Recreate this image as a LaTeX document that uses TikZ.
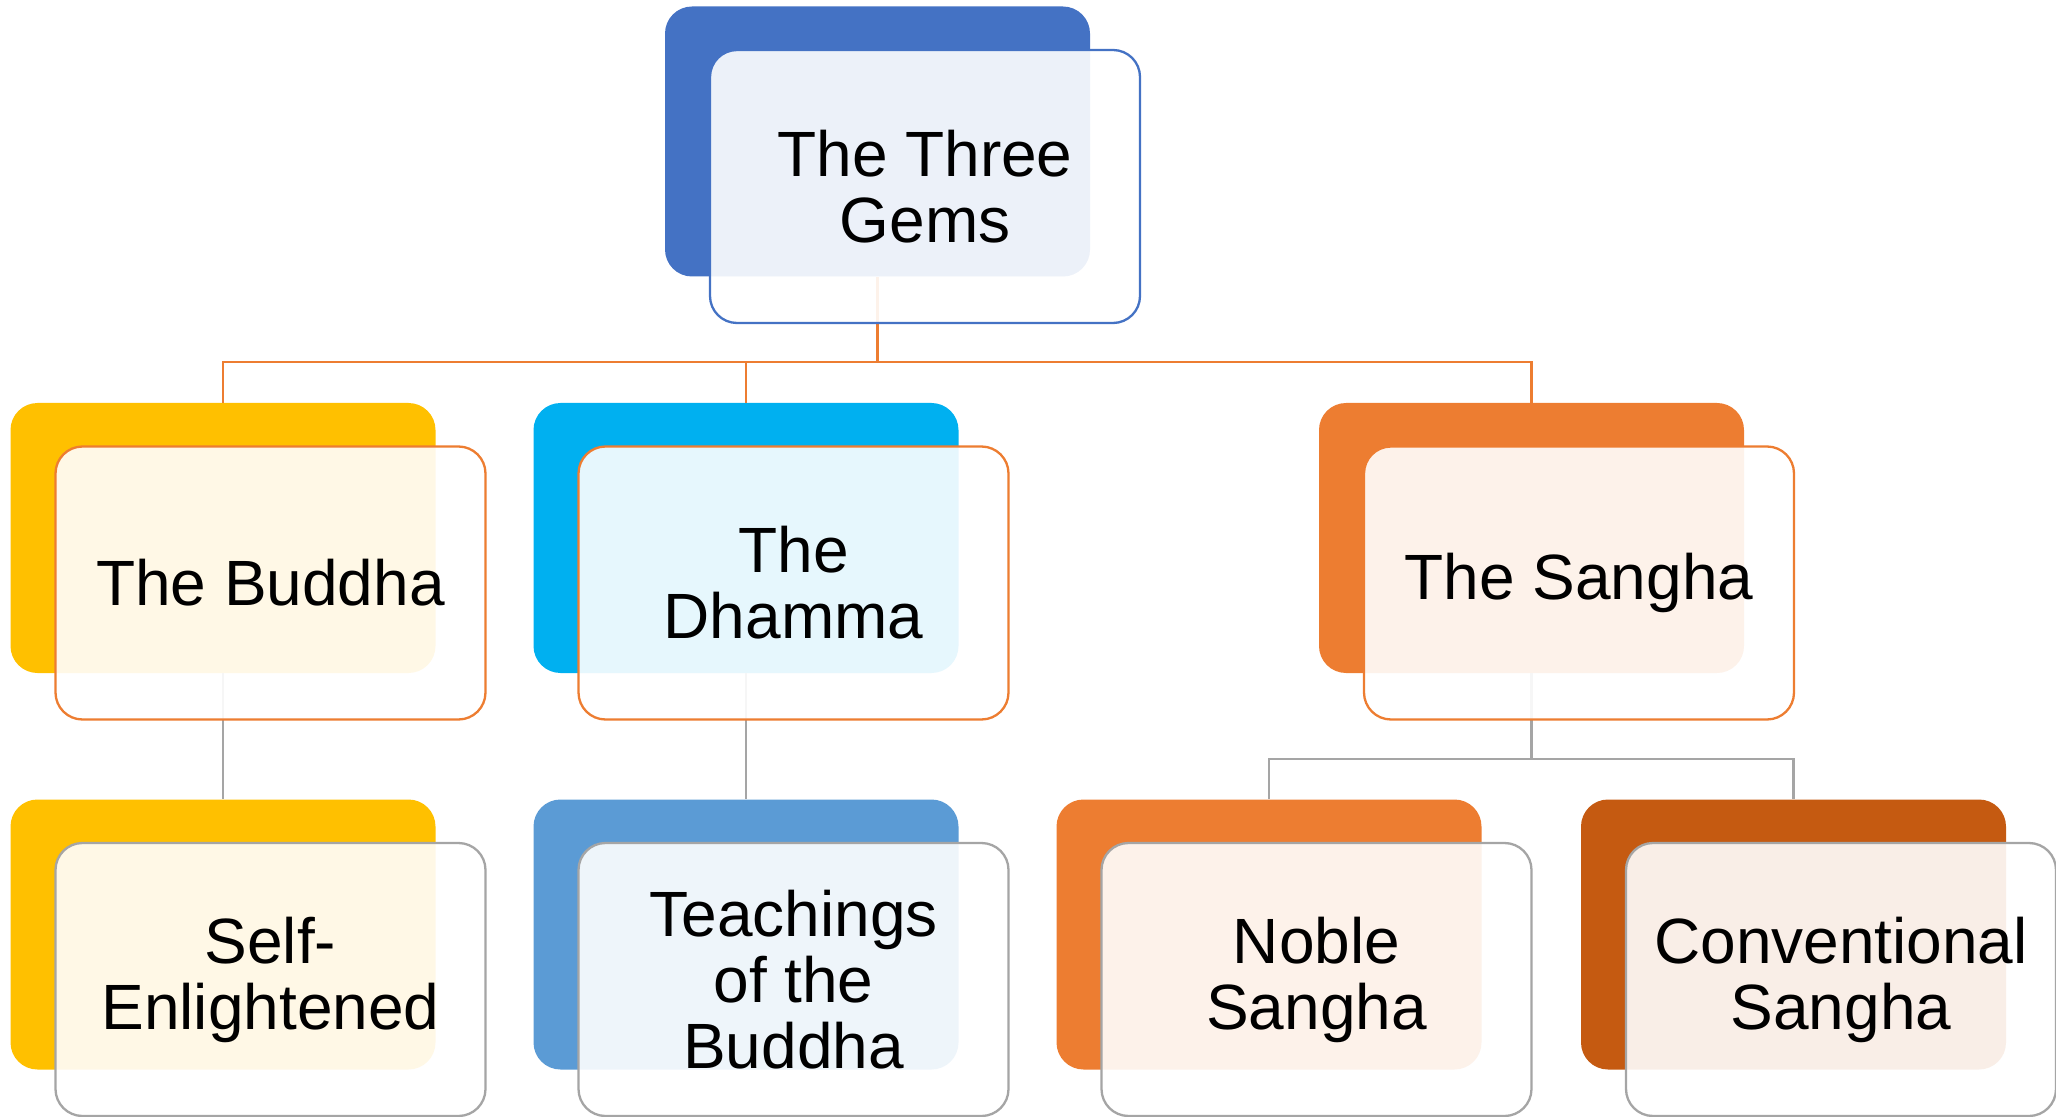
\documentclass[tikz,border=0pt]{standalone}
\usepackage{fontspec}
\setmainfont{Liberation Sans}
\usetikzlibrary{positioning}
\definecolor{gemblue}{HTML}{4472C4}
\definecolor{gemgold}{HTML}{FFC000}
\definecolor{gemcyan}{HTML}{00B0F0}
\definecolor{gemorange}{HTML}{ED7D31}
\definecolor{gemsky}{HTML}{5B9BD5}
\definecolor{gemrust}{HTML}{C55A11}
\definecolor{gemgrey}{HTML}{A5A5A5}
\tikzset{
	gemnode/.style = {rectangle, rounded corners=13.5pt, inner sep=0pt},
	backbox/.style = {gemnode, minimum width=212.5pt, minimum height=135pt},
	frontbox/.style = {gemnode, minimum width=215pt, minimum height=136.5pt, fill=white, fill opacity=0.9, text opacity=1, line width=1.15pt, align=center, font=\fontsize{32}{33}\selectfont},
	topline/.style = {draw=gemorange, line width=1.15pt},
	subline/.style = {draw=gemgrey, line width=1.15pt}
}

\begin{document}
\begin{tikzpicture}[node distance=198.25pt]
		\useasboundingbox (0,0) rectangle (1028pt,-558.5pt);
		%hintere Kästen
		\node (gemsback) [backbox, fill=gemblue] at (438.75pt,-70.75pt) {};
		\node (buddhaback) [backbox, fill=gemgold, below of=gemsback, xshift=-327.25pt] {};
		\node (dhammaback) [backbox, fill=gemcyan, right of=buddhaback, xshift=63.25pt] {};
		\node (sanghaback) [backbox, fill=gemorange, right of=dhammaback, xshift=194.5pt] {};
		\node (selfback) [backbox, fill=gemgold, below of=buddhaback] {};
		\node (teachback) [backbox, fill=gemsky, below of=dhammaback] {};
		\node (nobleback) [backbox, fill=gemorange, below of=sanghaback, xshift=-131.25pt] {};
		\node (convback) [backbox, fill=gemrust, below of=sanghaback, xshift=131pt] {};

		%Verbindungen
		\coordinate (bar1) at (0,-181pt);
		\coordinate (bar2) at (0,-379.5pt);
		\path [topline] (gemsback.south) -- (gemsback.south |- bar1) -| (buddhaback.north);
		\path [topline] (gemsback.south |- bar1) -| (dhammaback.north);
		\path [topline] (gemsback.south |- bar1) -| (sanghaback.north);
		\path [subline] (buddhaback.south) -- (selfback.north);
		\path [subline] (dhammaback.south) -- (teachback.north);
		\path [subline] (sanghaback.south) -- (sanghaback.south |- bar2) -| (nobleback.north);
		\path [subline] (sanghaback.south |- bar2) -| (convback.north);

		%vordere Kästen mit Text
		\node (gems) [frontbox, draw=gemblue, below of=gemsback, node distance=22.5pt, xshift=23.75pt] {The Three\\Gems};
		\node (buddha) [frontbox, draw=gemorange, below of=buddhaback, node distance=22.5pt, xshift=23.75pt] {The Buddha};
		\node (dhamma) [frontbox, draw=gemorange, below of=dhammaback, node distance=22.5pt, xshift=23.75pt] {The\\Dhamma};
		\node (sangha) [frontbox, draw=gemorange, below of=sanghaback, node distance=22.5pt, xshift=23.75pt] {The Sangha};
		\node (self) [frontbox, draw=gemgrey, below of=selfback, node distance=22.5pt, xshift=23.75pt] {Self-\\Enlightened};
		\node (teach) [frontbox, draw=gemgrey, below of=teachback, node distance=22.5pt, xshift=23.75pt] {Teachings\\of the\\Buddha};
		\node (noble) [frontbox, draw=gemgrey, below of=nobleback, node distance=22.5pt, xshift=23.75pt] {Noble\\Sangha};
		\node (conv) [frontbox, draw=gemgrey, below of=convback, node distance=22.5pt, xshift=23.75pt] {Conventional\\Sangha};
\end{tikzpicture}
\end{document}
